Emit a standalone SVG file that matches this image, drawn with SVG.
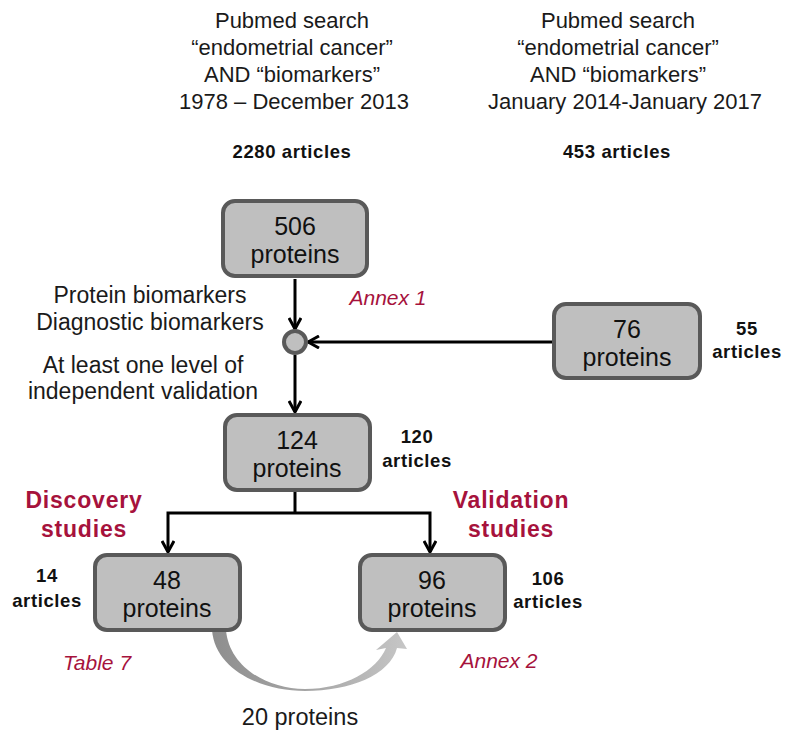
<svg xmlns="http://www.w3.org/2000/svg" width="787" height="732" viewBox="0 0 787 732">
  <style>
    text { font-family: "Liberation Sans", Arial, sans-serif; text-anchor: middle; }
    .hdr { font-size: 22px; fill: #1a1a1a; }
    .cnt { font-size: 18.5px; font-weight: bold; fill: #111; letter-spacing: 0.6px; }
    .lbl { font-size: 23px; fill: #1a1a1a; }
    .box rect { fill: #bfbfbf; stroke: #595959; stroke-width: 4; }
    .box text { font-size: 25px; fill: #111; }
    .ref { font-size: 21px; font-style: italic; fill: #a6123c; }
    .grp { font-size: 23px; font-weight: bold; fill: #a6123c; letter-spacing: 0.8px; }
    .wire { fill: none; stroke: #000; stroke-width: 3; }
  </style>
  <defs>
    <marker id="chev" viewBox="0 0 14 14" refX="12" refY="7" markerWidth="14" markerHeight="14" markerUnits="userSpaceOnUse" orient="auto">
      <path d="M1,1 L12,7 L1,13" fill="none" stroke="#000" stroke-width="3"/>
    </marker>
    <linearGradient id="swoosh" x1="212" y1="0" x2="406" y2="0" gradientUnits="userSpaceOnUse">
      <stop offset="0" stop-color="#8e8e8e"/>
      <stop offset="0.5" stop-color="#a6a6a6"/>
      <stop offset="1" stop-color="#c6c6c6"/>
    </linearGradient>
  </defs>

  <!-- search headers -->
  <g id="search-early">
    <text class="hdr" x="292" y="28">Pubmed search</text>
    <text class="hdr" x="292" y="55">“endometrial cancer”</text>
    <text class="hdr" x="292" y="82">AND “biomarkers”</text>
    <text class="hdr" x="294" y="109">1978 – December 2013</text>
    <text class="cnt" x="292" y="158">2280 articles</text>
  </g>
  <g id="search-late">
    <text class="hdr" x="618" y="28">Pubmed search</text>
    <text class="hdr" x="618" y="55">“endometrial cancer”</text>
    <text class="hdr" x="618" y="82">AND “biomarkers”</text>
    <text class="hdr" x="625" y="109">January 2014-January 2017</text>
    <text class="cnt" x="617" y="158">453 articles</text>
  </g>

  <!-- connectors -->
  <g id="connectors">
    <line class="wire" x1="295" y1="279" x2="295" y2="329" marker-end="url(#chev)"/>
    <line class="wire" x1="552" y1="342" x2="308" y2="342" marker-end="url(#chev)"/>
    <line class="wire" x1="295" y1="355" x2="295" y2="412" marker-end="url(#chev)"/>
    <polyline class="wire" points="295,492 295,513"/>
    <polyline class="wire" points="293,513 168,513 168,552" marker-end="url(#chev)"/>
    <polyline class="wire" points="293,513 430,513 430,552" marker-end="url(#chev)"/>
    <!-- curved overlap arrow -->
    <path d="M212,630 C215,670 262,691 305,691 C350,691 390,675 397,648 L407,649 L397,632 L376,650 L386,648 C377,670 345,689 305,689 C266,689 229,666 226,630 Z" fill="url(#swoosh)"/>
  </g>

  <!-- merge point -->
  <g id="merge">
    <circle cx="295" cy="342" r="11" fill="#bfbfbf" stroke="#595959" stroke-width="4"/>
  </g>

  <g id="filters">
    <text class="lbl" x="150" y="303">Protein biomarkers</text>
    <text class="lbl" x="150" y="330">Diagnostic biomarkers</text>
    <text class="lbl" x="143" y="373">At least one level of</text>
    <text class="lbl" x="143" y="399">independent validation</text>
  </g>

  <g id="node-506" class="box">
    <rect x="223" y="201" width="144" height="75" rx="12"/>
    <text x="295" y="235">506</text>
    <text x="295" y="263">proteins</text>
  </g>
  <text class="ref" x="388" y="305">Annex 1</text>

  <g id="node-76" class="box">
    <rect x="554" y="304" width="146" height="74" rx="12"/>
    <text x="627" y="338">76</text>
    <text x="627" y="366">proteins</text>
  </g>
  <g id="count-76">
    <text class="cnt" x="747" y="335">55</text>
    <text class="cnt" x="747" y="358">articles</text>
  </g>

  <g id="node-124" class="box">
    <rect x="225" y="415" width="145" height="75" rx="12"/>
    <text x="297" y="449">124</text>
    <text x="297" y="477">proteins</text>
  </g>
  <g id="count-124">
    <text class="cnt" x="417" y="443">120</text>
    <text class="cnt" x="417" y="467">articles</text>
  </g>

  <g id="discovery">
    <text class="grp" x="84" y="508">Discovery</text>
    <text class="grp" x="84" y="537">studies</text>
  </g>
  <g id="validation">
    <text class="grp" x="511" y="508">Validation</text>
    <text class="grp" x="511" y="537">studies</text>
  </g>

  <g id="node-48" class="box">
    <rect x="95" y="555" width="145" height="75" rx="12"/>
    <text x="167" y="589">48</text>
    <text x="167" y="617">proteins</text>
  </g>
  <g id="count-48">
    <text class="cnt" x="47" y="582">14</text>
    <text class="cnt" x="47" y="607">articles</text>
  </g>
  <text class="ref" x="97" y="670">Table 7</text>

  <g id="node-96" class="box">
    <rect x="360" y="555" width="145" height="75" rx="12"/>
    <text x="432" y="589">96</text>
    <text x="432" y="617">proteins</text>
  </g>
  <g id="count-96">
    <text class="cnt" x="548" y="585">106</text>
    <text class="cnt" x="548" y="608">articles</text>
  </g>
  <text class="ref" x="499" y="668">Annex 2</text>

  <text x="300" y="725" style="font-size:23.5px;fill:#1a1a1a">20 proteins</text>
</svg>
